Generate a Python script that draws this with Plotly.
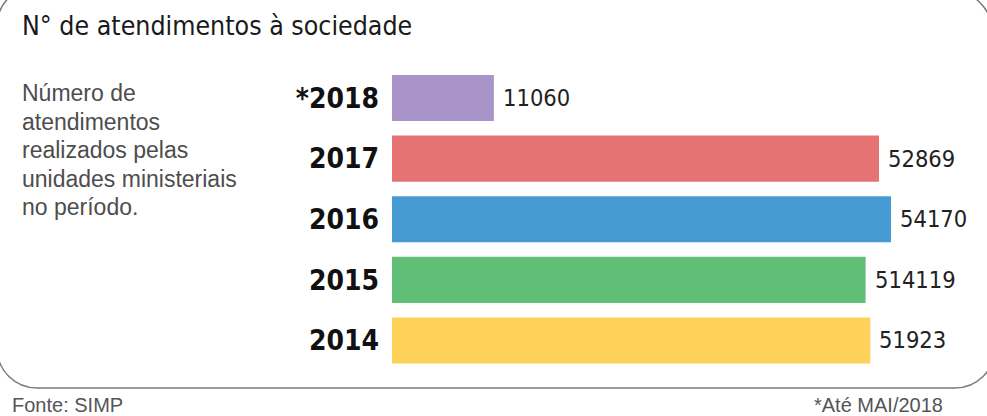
import plotly.graph_objects as go

# ---- data ----
years = ["*2018", "2017", "2016", "2015", "2014"]
values = [11060, 52869, 54170, 51411.9, 51923]
value_labels = ["11060", "52869", "54170", "514119", "51923"]
colors = ["#a894c8", "#e57373", "#479bd5", "#60be76", "#fed258"]

title_text = "N° de atendimentos à sociedade"
side_lines = ["Número de", "atendimentos", "realizados pelas",
              "unidades ministeriais", "no período."]
source_text = "Fonte: SIMP"
note_text = "*Até MAI/2018"

W, H = 987, 416
COND = "DejaVu Sans Condensed, Liberation Sans Narrow, Arial Narrow, sans-serif"
REG = "Liberation Sans, Arial, Helvetica, sans-serif"


def px(x):
    return x / W


def py(y):
    return 1 - y / H


fig = go.Figure()
fig.add_trace(go.Bar(
    x=values, y=years, orientation="h",
    marker=dict(color=colors, line=dict(width=0)),
    hoverinfo="skip",
))

annotations = []
for i, (v, lab) in enumerate(zip(values, value_labels)):
    annotations.append(dict(
        x=v, y=i, xref="x", yref="y", text=lab, showarrow=False,
        xanchor="left", yanchor="middle", xshift=7,
        font=dict(family=COND, size=23.5, color="#222222"),
    ))

annotations.append(dict(
    x=px(20), y=py(25), xref="paper", yref="paper", text=title_text,
    showarrow=False, xanchor="left", yanchor="middle",
    font=dict(family=COND, size=26.5, color="#1a1a1a")))

side_baselines = [101, 129.5, 158, 187, 215.5]
for t, b in zip(side_lines, side_baselines):
    annotations.append(dict(
        x=px(20), y=py(b - 8), xref="paper", yref="paper", text=t,
        showarrow=False, xanchor="left", yanchor="middle", align="left",
        font=dict(family=REG, size=23, color="#4d4d4d")))

annotations += [
    dict(x=px(10), y=py(405), xref="paper", yref="paper", text=source_text,
         showarrow=False, xanchor="left", yanchor="middle",
         font=dict(family=REG, size=20, color="#555555")),
    dict(x=px(945), y=py(405), xref="paper", yref="paper", text=note_text,
         showarrow=False, xanchor="right", yanchor="middle",
         font=dict(family=REG, size=20, color="#555555")),
]

# rounded frame (decoration), pixel geometry converted to paper coords
xl, xr, yt, yb = -3, 995, -14, 388
r_tl, r_tr, r_br, r_bl = 40, 54, 40, 40
k = 0.5523


def P(x, y):
    return f"{px(x):.5f},{py(y):.5f}"


path = (
    f"M {P(xl + r_tl, yt)} L {P(xr - r_tr, yt)} "
    f"C {P(xr - r_tr + k * r_tr, yt)} {P(xr, yt + r_tr - k * r_tr)} {P(xr, yt + r_tr)} "
    f"L {P(xr, yb - r_br)} "
    f"C {P(xr, yb - r_br + k * r_br)} {P(xr - r_br + k * r_br, yb)} {P(xr - r_br, yb)} "
    f"L {P(xl + r_bl, yb)} "
    f"C {P(xl + r_bl - k * r_bl, yb)} {P(xl, yb - r_bl + k * r_bl)} {P(xl, yb - r_bl)} "
    f"L {P(xl, yt + r_tl)} "
    f"C {P(xl, yt + r_tl - k * r_tl)} {P(xl + r_tl - k * r_tl, yt)} {P(xl + r_tl, yt)} Z"
)

fig.update_layout(
    width=W, height=H,
    margin=dict(l=0, r=0, t=0, b=0),
    paper_bgcolor="white", plot_bgcolor="white",
    showlegend=False,
    bargap=0.24,
    annotations=annotations,
    shapes=[dict(type="path", path=path, xref="paper", yref="paper",
                 line=dict(color="#7a7a7a", width=1.5), layer="below")],
    xaxis=dict(domain=[px(392), px(944.7)], range=[0, 60000], visible=False,
               fixedrange=True),
    yaxis=dict(domain=[py(370.8), py(67.7)], categoryorder="array",
               categoryarray=years, autorange=False, range=[4.5, -0.5],
               showgrid=False, zeroline=False, showline=False, ticks="",
               ticklabelstandoff=12,
               tickfont=dict(family=COND, size=28, color="#111111", weight="bold"),
               fixedrange=True),
)

fig.write_html(
    "out.html",
    config={"displayModeBar": False},
    post_script="document.body.style.margin='0';document.body.style.overflow='hidden';",
)
